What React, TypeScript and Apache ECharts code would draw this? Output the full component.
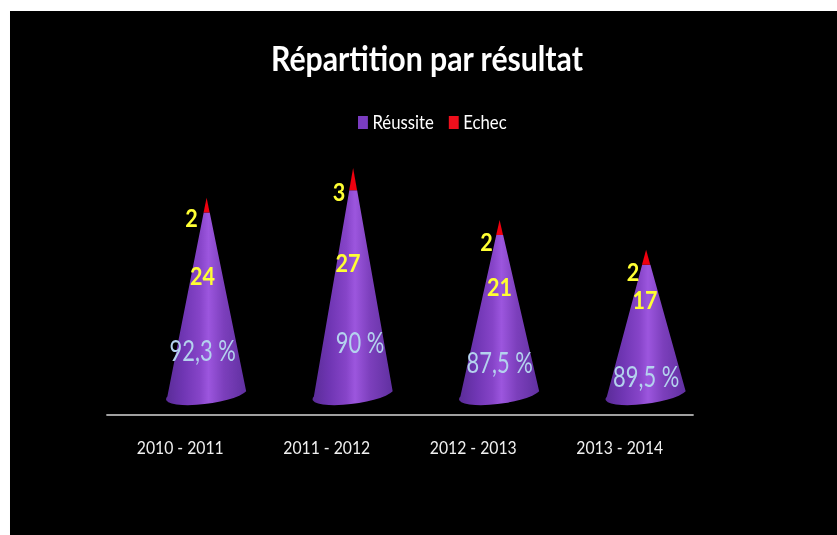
import React, { useEffect, useRef } from "react";
import * as echarts from "echarts";

const categories = ["2010 - 2011", "2011 - 2012", "2012 - 2013", "2013 - 2014"];
const reussite = [24, 27, 21, 17];
const echec = [2, 3, 2, 2];
const percents = ["92,3 %", "90 %", "87,5 %", "89,5 %"];

// the reference's lettering is condensed: the whole chart is drawn wider and squeezed
const SX = 0.9;
const px = (v: number) => v / SX;

// label placement (page pixels, relative to cone axis / value position)
const countDx = [-4, -5, 0, -1];
const countDy = [-26, -28, -26, -28];
const tipDx = [-15, -14, -13, -13];
const tipDy = [12, 13, 14, 14];
const pctDx = [-4, 7, 0, 0];
const pctDy = [-41, -49, -29, -15];

const FONT = "Lato, sans-serif";
const SKEW = 0.18; // cones stand right of their category
const TILT = 5.3;
const HALF = 0.268;

function geometry(api: any) {
  const idx = api.value(0);
  const base = api.coord([idx, 0]);
  const step = api.size([1, 0])[0];
  const cx = base[0] + step * SKEW;
  const cy = base[1];
  const hw = step * HALF;
  return { idx, cx, cy, hw, lx: cx - hw, ly: cy + TILT, rx: cx + hw, ry: cy - TILT };
}

const coneFill = new echarts.graphic.LinearGradient(0, 0, 1, 0, [
  { offset: 0, color: "#5a2c98" },
  { offset: 0.22, color: "#7036b4" },
  { offset: 0.42, color: "#8644c8" },
  { offset: 0.53, color: "#9c56de" },
  { offset: 0.72, color: "#7c3fbc" },
  { offset: 1, color: "#6030a0" },
]);

const renderBody = (_: any, api: any) => {
  const g = geometry(api);
  const value = api.value(1);
  const total = value + api.value(2);
  const topY = api.coord([g.idx, value])[1];
  const apexY = api.coord([g.idx, total])[1];
  const at = (x: number, y: number) => x + (g.cx - x) * ((y - topY) / (y - apexY));
  const d =
    `M${g.lx} ${g.ly}A${g.hw} 9.5 -7 0 0 ${g.rx} ${g.ry}` +
    `L${at(g.rx, g.ry)} ${topY}L${at(g.lx, g.ly)} ${topY}Z`;
  const countY = api.coord([g.idx, value / 2])[1] + countDy[g.idx];
  return {
    type: "group",
    children: [
      { type: "path", shape: { pathData: d }, style: { fill: coneFill } },
      {
        type: "text",
        z2: 5,
        style: {
          text: String(value), x: g.cx + px(countDx[g.idx]), y: countY,
          fill: "#ffff33", font: `bold 24px ${FONT}`, align: "center", verticalAlign: "middle",
        },
      },
      {
        type: "text",
        z2: 5,
        x: g.cx + px(pctDx[g.idx]),
        y: g.cy + pctDy[g.idx],
        scaleX: 0.84,
        style: {
          text: percents[g.idx], x: 0, y: 0,
          fill: "#b4d2ee", font: `29px ${FONT}`, align: "center", verticalAlign: "middle",
        },
      },
    ],
  };
};

const renderTip = (_: any, api: any) => {
  const g = geometry(api);
  const bottomValue = api.value(2);
  const value = api.value(1);
  const bottomY = api.coord([g.idx, bottomValue])[1];
  const apexY = api.coord([g.idx, bottomValue + value])[1];
  const half = (g.hw * (bottomY - apexY)) / (g.cy - apexY);
  const labelY = api.coord([g.idx, bottomValue + value / 2])[1] + tipDy[g.idx];
  return {
    type: "group",
    children: [
      {
        type: "polygon",
        shape: { points: [[g.cx, apexY], [g.cx + half, bottomY], [g.cx - half, bottomY]] },
        style: { fill: "#f0000f" },
      },
      {
        type: "text",
        z2: 5,
        style: {
          text: String(value), x: g.cx + px(tipDx[g.idx]), y: labelY,
          fill: "#ffff33", font: `bold 24px ${FONT}`, align: "center", verticalAlign: "middle",
        },
      },
    ],
  };
};

export default function App() {
  const ref = useRef<HTMLDivElement>(null);
  useEffect(() => {
    const chart = echarts.init(ref.current!, undefined, { renderer: "svg" });
    chart.setOption({
      animation: false,
      title: {
        text: "Répartition par résultat",
        left: px(422.5),
        top: 36,
        textAlign: "center",
        textStyle: { color: "#ffffff", fontFamily: FONT, fontWeight: "bold", fontSize: 33.6 },
      },
      legend: {
        top: 108,
        left: px(358) - 5,
        itemWidth: 11,
        itemHeight: 13,
        itemGap: px(15),
        selectedMode: false,
        textStyle: { color: "#ffffff", fontFamily: FONT, fontSize: 18.6 },
        data: [
          { name: "Réussite", icon: "rect", itemStyle: { color: "#7a3cc0" } },
          { name: "Echec", icon: "rect", itemStyle: { color: "#ee0f1c" } },
        ],
      },
      graphic: [
        {
          type: "rect",
          z: -10,
          silent: true,
          shape: { x: px(10), y: 11, width: px(827), height: 524 },
          style: { fill: "#000000" },
        },
      ],
      grid: { left: px(107), top: 153, width: px(586), height: 262, containLabel: false },
      xAxis: {
        type: "category",
        data: categories,
        axisLine: { onZero: false, lineStyle: { color: "#a0a0a0", width: 2 } },
        axisTick: { show: false },
        axisLabel: { color: "#f0f0f0", fontFamily: FONT, fontSize: 17.5, margin: 24 },
      },
      yAxis: { type: "value", min: -3.2, max: 32, show: false, splitLine: { show: false } },
      series: [
        {
          type: "custom",
          name: "Réussite",
          clip: false,
          itemStyle: { color: "#7a3cc0" },
          encode: { x: 0, y: 1 },
          renderItem: renderBody,
          data: reussite.map((v, i) => [i, v, echec[i]]),
        },
        {
          type: "custom",
          name: "Echec",
          clip: false,
          itemStyle: { color: "#ee0f1c" },
          encode: { x: 0, y: 1 },
          renderItem: renderTip,
          data: echec.map((v, i) => [i, v, reussite[i]]),
        },
      ],
    });
    return () => chart.dispose();
  }, []);
  return (
    <div
      ref={ref}
      style={{
        position: "fixed",
        left: 0,
        top: 0,
        width: px(837),
        height: 535,
        transform: `scaleX(${SX})`,
        transformOrigin: "0 0",
      }}
    />
  );
}
